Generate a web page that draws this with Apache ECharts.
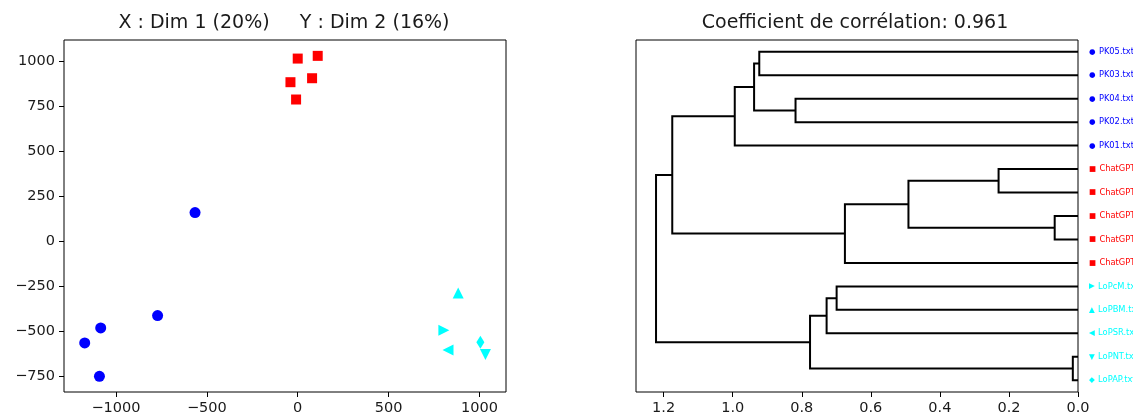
<!DOCTYPE html>
<html><head><meta charset="utf-8">
<script src="https://cdn.jsdelivr.net/npm/echarts@6/dist/echarts.min.js"></script>
<style>html,body{margin:0;padding:0;background:#fff}#c{width:1133px;height:418px}</style>
</head><body><div id="c"></div>
<script>
// ---- PCA scatter data ----
const pkPoints = [[-565,159],[-771,-412],[-1084,-481],[-1172,-564],[-1091,-749]];
const gptPoints = [[0,1013],[110,1028],[-40,882],[79,904],[-9,786]];
const lopcmPoint = [[804,-494]];
const lopbmPoint = [[883,-287]];
const lopsrPoint = [[827,-603]];
const lopntPoint = [[1033,-628]];
const lopapPoint = [[1005,-560]];
const pcaXTicks = [-1000,-500,0,500,1000];
const pcaYTicks = [-750,-500,-250,0,250,500,750,1000];

// ---- Dendrogram data (leaves top to bottom) ----
const leafLabels = ['PK05.txt','PK03.txt','PK04.txt','PK02.txt','PK01.txt',
  'ChatGPT','ChatGPT','ChatGPT','ChatGPT','ChatGPT',
  'LoPcM.txt','LoPBM.txt','LoPSR.txt','LoPNT.txt','LoPAP.txt'];
const leafGroups = ['pk','pk','pk','pk','pk','gpt','gpt','gpt','gpt','gpt','cm','bm','sr','nt','ap'];
// linkage: [clusterA, clusterB, height]; new clusters numbered from 15
const linkage = [
  [0,1,0.923],[2,3,0.818],[15,16,0.938],[17,4,0.994],
  [5,6,0.230],[7,8,0.0675],[19,20,0.491],[21,9,0.675],
  [18,22,1.175],[10,11,0.699],[24,12,0.728],[13,14,0.015],
  [25,26,0.776],[23,27,1.222]
];
const dendroXTicks = [0,0.2,0.4,0.6,0.8,1.0,1.2];

const nLeaves = leafLabels.length;
const nodePos = [], nodeH = [];
for (let i=0;i<nLeaves;i++){ nodePos.push(10*i+5); nodeH.push(0); }
const links = [];
linkage.forEach(([a,b,h])=>{
  links.push({coords:[[nodeH[a],nodePos[a]],[h,nodePos[a]],[h,nodePos[b]],[nodeH[b],nodePos[b]]]});
  nodePos.push((nodePos[a]+nodePos[b])/2); nodeH.push(h);
});
const leafTicks = leafLabels.map((_,i)=>10*i+5);

const minus = v => String(v).replace('-', '\u2212');
const tickFont = {fontFamily:'DejaVu Sans', fontSize:14.5, color:'#1a1a1a'};
const markerOf = {pk:'●', gpt:'■', cm:'▶', bm:'▲', sr:'◀', nt:'▼', ap:'◆'};
const rich = {};
['pk','gpt','cyan'].forEach(k=>{
  const c = k==='pk'?'#0000ff':(k==='gpt'?'#ff0000':'#00ffff');
  rich[k] = {color:c, fontFamily:'DejaVu Sans', fontSize:8.3};
  rich[k+'m'] = {color:c, fontFamily:'DejaVu Sans', fontSize:7.5};
});

const chart = echarts.init(document.getElementById('c'));
const sc = (name, data, symbol, color, size, rot) => ({
  name, type:'scatter', xAxisIndex:0, yAxisIndex:0, data, symbol, symbolSize:size,
  symbolRotate: rot||0, itemStyle:{color, opacity:1}, animation:false
});
const noLine = {show:false, onZero:false};
const tick = vals => ({show:true, length:5, lineStyle:{color:'#000'}, customValues:vals});
chart.setOption({
  animation:false,
  graphic:[
    {type:'text', x:284, y:23, style:{text:'X : Dim 1 (20%)     Y : Dim 2 (16%)', fontFamily:'DejaVu Sans', fontSize:19, fill:'#1a1a1a', align:'center', verticalAlign:'middle'}},
    {type:'text', x:855, y:23, style:{text:'Coefficient de corrélation: 0.961', fontFamily:'DejaVu Sans', fontSize:19, fill:'#1a1a1a', align:'center', verticalAlign:'middle'}}
  ],
  grid:[
    {left:64, top:40, width:442, height:352, outerBoundsMode:'none', containLabel:false, show:true, borderColor:'#000', borderWidth:1, backgroundColor:'transparent'},
    {left:636, top:40, width:442, height:352, outerBoundsMode:'none', containLabel:false, show:true, borderColor:'#000', borderWidth:1, backgroundColor:'transparent'}
  ],
  xAxis:[
    {type:'value', gridIndex:0, min:-1286, max:1146, splitLine:{show:false}, axisLine:noLine,
     axisTick:tick(pcaXTicks),
     axisLabel:Object.assign({margin:9, customValues:pcaXTicks, formatter:minus}, tickFont)},
    {type:'value', gridIndex:1, min:0, max:1.28, inverse:true, splitLine:{show:false}, axisLine:noLine,
     axisTick:tick(dendroXTicks),
     axisLabel:Object.assign({margin:9, customValues:dendroXTicks, formatter:v=>v.toFixed(1)}, tickFont)}
  ],
  yAxis:[
    {type:'value', gridIndex:0, min:-836, max:1116, splitLine:{show:false}, axisLine:noLine,
     axisTick:tick(pcaYTicks),
     axisLabel:Object.assign({margin:9, customValues:pcaYTicks, formatter:minus}, tickFont)},
    {type:'value', gridIndex:1, min:0, max:150, inverse:true, position:'right', splitLine:{show:false}, axisLine:noLine,
     axisTick:{show:false, customValues:leafTicks},
     axisLabel:{margin:11, customValues:leafTicks, rich,
       formatter:v=>{const i=Math.round((v-5)/10); const g=leafGroups[i]; const k=(g==='pk'||g==='gpt')?g:'cyan';
         return '{'+k+'m|'+markerOf[g]+'} {'+k+'|'+leafLabels[i]+'}';}}}
  ],
  series:[
    sc('PK', pkPoints, 'circle', '#0000ff', 11),
    sc('ChatGPT', gptPoints, 'rect', '#ff0000', 10),
    sc('LoPcM', lopcmPoint, 'triangle', '#00ffff', 11, -90),
    sc('LoPBM', lopbmPoint, 'triangle', '#00ffff', 11, 0),
    sc('LoPSR', lopsrPoint, 'triangle', '#00ffff', 11, 90),
    sc('LoPNT', lopntPoint, 'triangle', '#00ffff', 11, 180),
    sc('LoPAP', lopapPoint, 'diamond', '#00ffff', [8,13]),
    {type:'lines', coordinateSystem:'cartesian2d', xAxisIndex:1, yAxisIndex:1, polyline:true,
     data:links, lineStyle:{color:'#000', width:2, opacity:1}, silent:true, animation:false}
  ]
});
</script></body></html>
